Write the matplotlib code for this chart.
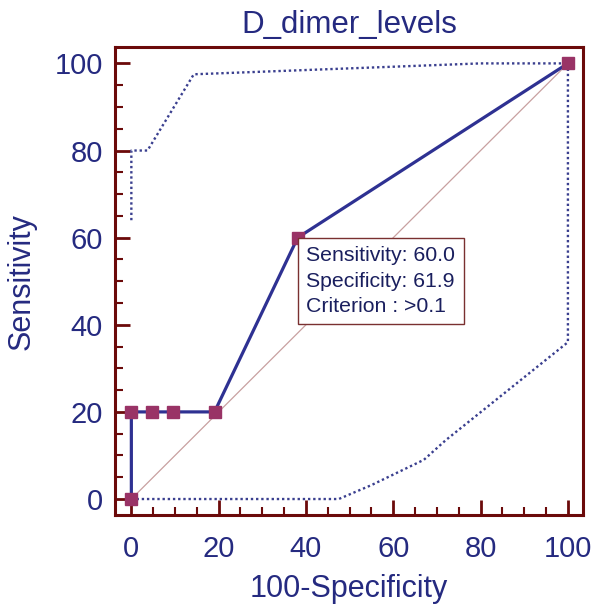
import numpy as np
import matplotlib.pyplot as plt
from matplotlib.ticker import MultipleLocator

plt.rcParams["font.family"] = ["Liberation Sans", "DejaVu Sans"]

# ROC curve (21 negatives, 5 positives)
roc_x = [0, 0, 4.76, 9.52, 19.05, 38.1, 100]
roc_y = [0, 20, 20, 20, 20, 60, 100]

# confidence bounds
upper_x = [0, 0, 3.7, 14.3, 80, 100]
upper_y = [64, 80, 80, 97.5, 100, 100]
lower_x = [0, 47.5, 55, 67, 72, 100, 100]
lower_y = [0, 0, 3.2, 9, 13.5, 36, 100]

navy = "#252a80"
maroon = "#6b0a0a"
marker_col = "#993366"

fig = plt.figure(figsize=(6.0, 6.14), dpi=100)
ax = fig.add_axes([0.192, 0.161, 0.78, 0.762])

ax.plot([0, 100], [0, 100], color="#c8a0a0", lw=0.9, zorder=1)
ax.plot(upper_x, upper_y, color="#3a3f8f", lw=1.7, ls=(0, (1, 1.2)), zorder=2)
ax.plot(lower_x, lower_y, color="#3a3f8f", lw=1.7, ls=(0, (1, 1.2)), zorder=2)
ax.plot(roc_x, roc_y, color="#2e3192", lw=2.3, marker="s", ms=9,
        mfc=marker_col, mec=marker_col, zorder=3)

ax.text(40.1, 58.0, "Sensitivity: 60.0\nSpecificity: 61.9\nCriterion : >0.1",
        fontsize=15.3, color="#1a1f5e", va="top", ha="left", linespacing=1.42,
        bbox=dict(boxstyle="square,pad=0.4", fc="white", ec="#7a3030", lw=1.0),
        zorder=4)

ax.set_xlim(-3.7, 103.5)
ax.set_ylim(-3.7, 103.7)
ax.xaxis.set_major_locator(MultipleLocator(20))
ax.xaxis.set_minor_locator(MultipleLocator(5))
ax.yaxis.set_major_locator(MultipleLocator(20))
ax.yaxis.set_minor_locator(MultipleLocator(5))

for s in ax.spines.values():
    s.set_color(maroon)
    s.set_linewidth(2.2)
ax.tick_params(which="major", direction="in", length=11, width=2, color=maroon,
               labelsize=21, labelcolor=navy)
ax.tick_params(axis="x", which="major", pad=14)
ax.tick_params(axis="y", which="major", pad=9)
ax.tick_params(which="minor", direction="in", length=6, width=1.5, color=maroon)
ax.tick_params(top=False, right=False, which="both")

ax.set_title("D_dimer_levels", fontsize=22.5, color=navy, pad=10)
ax.set_xlabel("100-Specificity", fontsize=22, color=navy, labelpad=8)
ax.set_ylabel("Sensitivity", fontsize=22, color=navy, labelpad=13)

fig.savefig("out.png", dpi=100)
